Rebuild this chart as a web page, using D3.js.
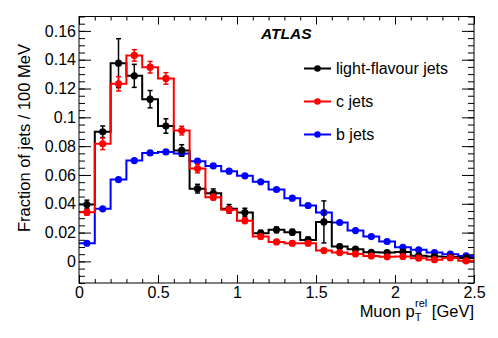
<!DOCTYPE html>
<html><head><meta charset="utf-8">
<script src="https://cdn.jsdelivr.net/npm/d3@7/dist/d3.min.js"></script>
<style>
body{margin:0;background:#fff;}
svg{display:block;font-family:"Liberation Sans",Arial,Helvetica,sans-serif;}
</style></head>
<body><svg id="c" width="498" height="338"></svg>
<script>
// ---- data ----
const binEdges = [0,0.1,0.2,0.3,0.4,0.5,0.6,0.7,0.8,0.9,1.0,1.1,1.2,1.3,1.4,1.5,1.6,1.7,1.8,1.9,2.0,2.1,2.2,2.3,2.4,2.5];
const lightValues = [0.0395,0.090,0.1376,0.1288,0.1126,0.094,0.077,0.0505,0.0473,0.0365,0.0339,0.0196,0.0219,0.0203,0.0149,0.0274,0.0103,0.0085,0.0063,0.0061,0.0066,0.0040,0.0034,0.0030,0.0024];
const lightErrors = [0.003,0.004,0.017,0.008,0.006,0.005,0.004,0.003,0.003,0.003,0.003,0.002,0.002,0.002,0.002,0.0146,0.0015,0.0012,0.001,0.001,0.001,0.001,0.001,0.001,0.001];
const cValues = [0.0341,0.0816,0.1233,0.143,0.1348,0.127,0.0908,0.0645,0.0446,0.0358,0.0283,0.0172,0.0135,0.0126,0.0126,0.0075,0.0061,0.0052,0.0038,0.0032,0.0034,0.0022,0.0012,0.0024,0.0004];
const cErrors = [0.002,0.004,0.005,0.004,0.004,0.004,0.003,0.003,0.002,0.002,0.002,0.0015,0.0015,0.0015,0.0015,0.001,0.001,0.001,0.001,0.001,0.001,0.001,0.001,0.001,0.001];
const bValues = [0.0126,0.0365,0.0568,0.070,0.0753,0.076,0.0749,0.0696,0.0663,0.0626,0.0594,0.0552,0.0499,0.0439,0.0388,0.0339,0.027,0.0214,0.0172,0.0138,0.0098,0.008,0.0061,0.005,0.0038];
const bErrors = [0.0005,0.0006,0.0006,0.0006,0.0006,0.0006,0.0006,0.0006,0.0006,0.0005,0.0005,0.0005,0.0005,0.0005,0.0005,0.0005,0.0004,0.0004,0.0004,0.0004,0.0003,0.0003,0.0003,0.0003,0.0003];
const seriesNames = ["light-flavour jets","c jets","b jets"];
const seriesColors = ["#000000","#ff0000","#0000ff"];
const xTickValues = [0,0.5,1,1.5,2,2.5];
const xTickLabels = ["0","0.5","1","1.5","2","2.5"];
const yTickValues = [0,0.02,0.04,0.06,0.08,0.1,0.12,0.14,0.16];
const yTickLabels = ["0","0.02","0.04","0.06","0.08","0.1","0.12","0.14","0.16"];
const yTitle = "Fraction of jets / 100 MeV";
const experimentLabel = "ATLAS";

// ---- layout ----
const L=79, R=474, T=16.5, B=283;
const x = d3.scaleLinear().domain([0,2.5]).range([L,R]);
const y = d3.scaleLinear().domain([-0.015,0.17]).range([B,T]);
const svg = d3.select("#c");

const xMinor = d3.range(0,26).map(i=>i/10);
const yMinor = d3.range(-3,35).map(i=>i*0.005);

function styleAxis(g){ g.select(".domain").remove(); g.selectAll("line").attr("stroke","#000").attr("stroke-width",1); g.selectAll("text").attr("font-size",16).attr("fill","#000").attr("font-family","Liberation Sans, Arial, sans-serif"); }

// bottom
svg.append("g").attr("transform",`translate(0,${B})`).call(d3.axisBottom(x).tickValues(xMinor).tickSize(-4).tickFormat("")).call(styleAxis);
svg.append("g").attr("transform",`translate(0,${B})`).call(d3.axisBottom(x).tickValues(xTickValues).tickSize(-8).tickPadding(4).tickFormat((d,i)=>xTickLabels[i])).call(styleAxis);
// top
svg.append("g").attr("transform",`translate(0,${T})`).call(d3.axisTop(x).tickValues(xMinor).tickSize(-4).tickFormat("")).call(styleAxis);
svg.append("g").attr("transform",`translate(0,${T})`).call(d3.axisTop(x).tickValues(xTickValues).tickSize(-8).tickFormat("")).call(styleAxis);
// left
svg.append("g").attr("transform",`translate(${L},0)`).call(d3.axisLeft(y).tickValues(yMinor).tickSize(-6).tickFormat("")).call(styleAxis);
svg.append("g").attr("transform",`translate(${L},0)`).call(d3.axisLeft(y).tickValues(yTickValues).tickSize(-12).tickPadding(3).tickFormat((d,i)=>yTickLabels[i])).call(styleAxis);
// right
svg.append("g").attr("transform",`translate(${R},0)`).call(d3.axisRight(y).tickValues(yMinor).tickSize(-6).tickFormat("")).call(styleAxis);
svg.append("g").attr("transform",`translate(${R},0)`).call(d3.axisRight(y).tickValues(yTickValues).tickSize(-12).tickFormat("")).call(styleAxis);

// series
const series = [
  {name:seriesNames[0], color:seriesColors[0], v:lightValues, e:lightErrors},
  {name:seriesNames[1], color:seriesColors[1], v:cValues, e:cErrors},
  {name:seriesNames[2], color:seriesColors[2], v:bValues, e:bErrors}
];
const plot = svg.append("g");
const stepLine = d3.line().x(d=>x(d[0])).y(d=>y(d[1])).curve(d3.curveStepAfter);
const drawOrder = [2,0,1];
drawOrder.forEach(si=>{
  const s = series[si];
  const pts = binEdges.slice(0,-1).map((e,i)=>[e,s.v[i]]);
  pts.push([binEdges[binEdges.length-1], s.v[s.v.length-1]]);
  plot.append("path").attr("d",stepLine(pts)).attr("fill","none").attr("stroke",s.color).attr("stroke-width",2);
});
drawOrder.forEach(si=>{
  const s = series[si];
  const g = plot.append("g");
  s.v.forEach((v,i)=>{
    const cx = x((binEdges[i]+binEdges[i+1])/2);
    const y1 = y(v+s.e[i]), y2 = y(v-s.e[i]);
    g.append("line").attr("x1",cx).attr("x2",cx).attr("y1",y1).attr("y2",y2).attr("stroke",s.color).attr("stroke-width",1.5);
    g.append("line").attr("x1",cx-2.5).attr("x2",cx+2.5).attr("y1",y1).attr("y2",y1).attr("stroke",s.color).attr("stroke-width",1.5);
    g.append("line").attr("x1",cx-2.5).attr("x2",cx+2.5).attr("y1",y2).attr("y2",y2).attr("stroke",s.color).attr("stroke-width",1.5);
    g.append("circle").attr("cx",cx).attr("cy",y(v)).attr("r",3.6).attr("fill",s.color);
  });
});

// frame
svg.append("rect").attr("x",L).attr("y",T).attr("width",R-L).attr("height",B-T).attr("fill","none").attr("stroke","#000").attr("stroke-width",1);

// legend
const leg = svg.append("g");
series.forEach((s,i)=>{
  const ly = 68.5 + i*33;
  leg.append("line").attr("x1",304).attr("x2",331).attr("y1",ly).attr("y2",ly).attr("stroke",s.color).attr("stroke-width",2);
  leg.append("circle").attr("cx",317.5).attr("cy",ly).attr("r",3.3).attr("fill",s.color);
  leg.append("text").attr("x",336).attr("y",ly+5.5).attr("font-size",16).text(s.name);
});

// ATLAS
svg.append("text").attr("x",261).attr("y",39).attr("font-size",15.5).attr("font-weight","bold").attr("font-style","italic").text(experimentLabel);

// y title
svg.append("text").attr("transform","translate(30,44) rotate(-90)").attr("text-anchor","end").attr("font-size",16.5).text(yTitle);

// x title
const xt = svg.append("text").attr("x",R).attr("y",317).attr("text-anchor","end").attr("font-size",16.5);
xt.append("tspan").text("Muon p");
xt.append("tspan").attr("font-size",11).attr("dy",4).text("T");
xt.append("tspan").attr("font-size",11).attr("dx",-6).attr("dy",-14).text("rel");
xt.append("tspan").attr("dy",10).text(" [GeV]");
</script></body></html>
